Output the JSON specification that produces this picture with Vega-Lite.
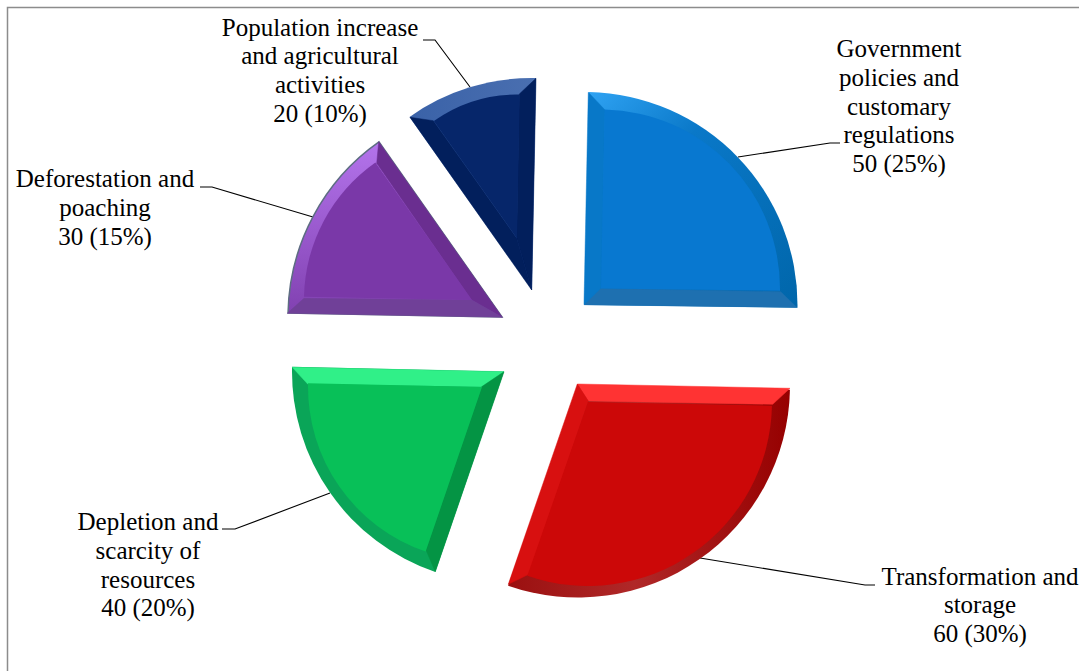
{"$schema":"https://vega.github.io/schema/vega-lite/v6.json","width":1079,"height":671,"padding":0,"autosize":{"type":"fit","contains":"padding"},"background":"white","view":{"stroke":null},
"datasets":{
"slices":[
{"category":"Government policies and customary regulations","value":50,"start":0.65,"end":50.4,"cx":584.5,"cy":305,"ix":601,"iy":288.5,"ir":179},
{"category":"Transformation and storage","value":60,"start":50.65,"end":110.7,"cx":578,"cy":385.5,"ix":588,"iy":402,"ir":184},
{"category":"Depletion and scarcity of resources","value":40,"start":110.5,"end":150.7,"cx":504,"cy":371.5,"ix":482,"iy":387,"ir":174},
{"category":"Deforestation and poaching","value":30,"start":150.6,"end":180.5,"cx":502,"cy":317,"ix":472,"iy":300,"ir":168},
{"category":"Population increase and agricultural activities","value":20,"start":180.4,"end":200.6,"cx":532,"cy":290,"ix":517,"iy":238.5,"ir":144}],
"bands":[
{"piece":"gov_bottom","i":0,"x":584,"y":304.7},{"piece":"gov_bottom","i":1,"x":796.7,"y":307.3},{"piece":"gov_bottom","i":2,"x":780.7,"y":291.7},{"piece":"gov_bottom","i":3,"x":600.7,"y":288.3},
{"piece":"gov_left","i":0,"x":588.3,"y":92.3},{"piece":"gov_left","i":1,"x":605,"y":110},{"piece":"gov_left","i":2,"x":600.7,"y":288.3},{"piece":"gov_left","i":3,"x":584,"y":304.7},
{"piece":"navy_right","i":0,"x":536,"y":78.3},{"piece":"navy_right","i":1,"x":531.7,"y":290},{"piece":"navy_right","i":2,"x":516.7,"y":238.3},{"piece":"navy_right","i":3,"x":519.3,"y":94},
{"piece":"navy_left","i":0,"x":410,"y":117.3},{"piece":"navy_left","i":1,"x":433.3,"y":120.7},{"piece":"navy_left","i":2,"x":516.7,"y":238.3},{"piece":"navy_left","i":3,"x":531.7,"y":290},
{"piece":"purple_right","i":0,"x":378.7,"y":141.7},{"piece":"purple_right","i":1,"x":502.3,"y":317.3},{"piece":"purple_right","i":2,"x":471.7,"y":300},{"piece":"purple_right","i":3,"x":376.7,"y":163.3},
{"piece":"purple_bottom","i":0,"x":287.3,"y":313.3},{"piece":"purple_bottom","i":1,"x":502.3,"y":317.3},{"piece":"purple_bottom","i":2,"x":471.7,"y":300},{"piece":"purple_bottom","i":3,"x":304,"y":298.3},
{"piece":"green_top","i":0,"x":292.3,"y":367.3},{"piece":"green_top","i":1,"x":504,"y":371.7},{"piece":"green_top","i":2,"x":481.7,"y":386.7},{"piece":"green_top","i":3,"x":307.7,"y":384},
{"piece":"green_right","i":0,"x":504,"y":371.7},{"piece":"green_right","i":1,"x":435.3,"y":571.7},{"piece":"green_right","i":2,"x":426,"y":550},{"piece":"green_right","i":3,"x":481.7,"y":386.7},
{"piece":"red_top","i":0,"x":577.3,"y":384},{"piece":"red_top","i":1,"x":790,"y":388.3},{"piece":"red_top","i":2,"x":772.7,"y":404.3},{"piece":"red_top","i":3,"x":588.3,"y":401},
{"piece":"red_left","i":0,"x":577.3,"y":384},{"piece":"red_left","i":1,"x":508.3,"y":584.3},{"piece":"red_left","i":2,"x":529.3,"y":574},{"piece":"red_left","i":3,"x":588.3,"y":401}],
"leaders":[
{"id":"gov","i":0,"x":738,"y":157},{"id":"gov","i":1,"x":830,"y":143},{"id":"gov","i":2,"x":840,"y":143},
{"id":"navy","i":0,"x":470,"y":87},{"id":"navy","i":1,"x":435,"y":40},{"id":"navy","i":2,"x":423,"y":40},
{"id":"purple","i":0,"x":313,"y":217},{"id":"purple","i":1,"x":212,"y":187},{"id":"purple","i":2,"x":200,"y":187},
{"id":"green","i":0,"x":330,"y":493},{"id":"green","i":1,"x":235,"y":529},{"id":"green","i":2,"x":222,"y":529},
{"id":"red","i":0,"x":700,"y":558},{"id":"red","i":1,"x":865,"y":585},{"id":"red","i":2,"x":875,"y":585},
{"id":"frame","i":0,"x":1079,"y":7.5},{"id":"frame","i":1,"x":7.5,"y":7.5},{"id":"frame","i":2,"x":7.5,"y":671}],
"labels":[
{"label":"Population increase\nand agricultural\nactivities\n20 (10%)","x":320,"y":35.5},
{"label":"Government\npolicies and\ncustomary\nregulations\n50 (25%)","x":899,"y":57},
{"label":"Deforestation and\npoaching\n30 (15%)","x":105,"y":187},
{"label":"Depletion and\nscarcity of\nresources\n 40 (20%)","x":148,"y":530},
{"label":"Transformation and\nstorage\n60 (30%)","x":980,"y":584.5}]
},
"encoding":{
"x":{"field":"x","type":"quantitative","axis":null,"scale":{"domain":[0,1079],"range":[0,1079],"nice":false,"zero":false}},
"y":{"field":"y","type":"quantitative","axis":null,"scale":{"domain":[0,671],"range":[0,671],"nice":false,"zero":false}}},
"resolve":{"scale":{"fill":"independent","stroke":"independent"}},
"layer":[
{"data":{"name":"leaders"},"transform":[{"filter":"datum.id==='frame'"}],"mark":{"type":"line","stroke":"#8c8c8c","strokeWidth":1.5},"encoding":{"order":{"field":"i"}}},
{"data":{"name":"leaders"},"transform":[{"filter":"datum.id!=='frame'"}],"mark":{"type":"line","stroke":"#000000","strokeWidth":1.1},"encoding":{"detail":{"field":"id"},"order":{"field":"i"}}},
{"data":{"name":"slices"},"transform":[{"filter":"datum.value===50"}],"mark":{"type":"arc","radius":213,"fill":{"gradient":"linear","x1":0,"y1":0,"x2":1,"y2":1,"stops":[{"offset":0,"color":"#30a4f4"},{"offset":0.35,"color":"#0a78c8"},{"offset":1,"color":"#0066aa"}]}},"encoding":{"x":{"field":"cx"},"y":{"field":"cy"},"theta":{"field":"start","type":"quantitative","scale":{"domain":[0,200],"range":[0,6.283185]}},"theta2":{"field":"end"}}},
{"data":{"name":"slices"},"transform":[{"filter":"datum.value===60"}],"mark":{"type":"arc","radius":212,"fill":{"gradient":"linear","x1":0,"y1":0,"x2":1,"y2":0,"stops":[{"offset":0,"color":"#9a1010"},{"offset":0.45,"color":"#b02828"},{"offset":1,"color":"#960000"}]}},"encoding":{"x":{"field":"cx"},"y":{"field":"cy"},"theta":{"field":"start","type":"quantitative","scale":{"domain":[0,200],"range":[0,6.283185]}},"theta2":{"field":"end"}}},
{"data":{"name":"slices"},"transform":[{"filter":"datum.value===40"}],"mark":{"type":"arc","radius":212,"fill":"#0aa558"},"encoding":{"x":{"field":"cx"},"y":{"field":"cy"},"theta":{"field":"start","type":"quantitative","scale":{"domain":[0,200],"range":[0,6.283185]}},"theta2":{"field":"end"}}},
{"data":{"name":"slices"},"transform":[{"filter":"datum.value===30"}],"mark":{"type":"arc","radius":214,"stroke":"#5d6d82","strokeWidth":1.5,"fill":{"gradient":"linear","x1":0,"y1":0,"x2":0,"y2":1,"stops":[{"offset":0,"color":"#b474ec"},{"offset":1,"color":"#8040b0"}]}},"encoding":{"x":{"field":"cx"},"y":{"field":"cy"},"theta":{"field":"start","type":"quantitative","scale":{"domain":[0,200],"range":[0,6.283185]}},"theta2":{"field":"end"}}},
{"data":{"name":"slices"},"transform":[{"filter":"datum.value===20"}],"mark":{"type":"arc","radius":212,"fill":{"gradient":"linear","x1":0,"y1":0,"x2":1,"y2":0,"stops":[{"offset":0,"color":"#3a62a8"},{"offset":1,"color":"#4a6fb0"}]}},"encoding":{"x":{"field":"cx"},"y":{"field":"cy"},"theta":{"field":"start","type":"quantitative","scale":{"domain":[0,200],"range":[0,6.283185]}},"theta2":{"field":"end"}}},
{"data":{"name":"bands"},"mark":{"type":"line","interpolate":"linear-closed","strokeWidth":0.5},"encoding":{"detail":{"field":"piece"},"order":{"field":"i"},
"fill":{"field":"piece","type":"nominal","legend":null,"scale":{"domain":["gov_bottom","gov_left","navy_right","navy_left","purple_right","purple_bottom","green_top","green_right","red_top","red_left"],"range":["#1e70b0","#0878c8","#021f5c","#021f5c","#6a2e90","#704098","#30f088","#049444","#ff3333","#d81010"]}},
"stroke":{"field":"piece","type":"nominal","legend":null,"scale":{"domain":["gov_bottom","gov_left","navy_right","navy_left","purple_right","purple_bottom","green_top","green_right","red_top","red_left"],"range":["#1e70b0","#0878c8","#021f5c","#021f5c","#6a2e90","#704098","#30f088","#049444","#ff3333","#d81010"]}}}},
{"data":{"name":"slices"},"mark":{"type":"arc"},"encoding":{"x":{"field":"ix"},"y":{"field":"iy"},"theta":{"field":"start","type":"quantitative","scale":{"domain":[0,200],"range":[0,6.283185]}},"theta2":{"field":"end"},"radius":{"field":"ir","type":"quantitative","scale":{"type":"linear","domain":[0,213],"range":[0,213],"zero":true}},
"fill":{"field":"category","type":"nominal","legend":null,"scale":{"domain":["Government policies and customary regulations","Transformation and storage","Depletion and scarcity of resources","Deforestation and poaching","Population increase and agricultural activities"],"range":["#0878d0","#cc0808","#08c058","#7a38a8","#06266a"]}}}},
{"data":{"name":"labels"},"mark":{"type":"text","font":"Liberation Serif","fontSize":25,"lineHeight":28.8,"align":"center","baseline":"alphabetic","color":"#000000"},"encoding":{"text":{"field":"label"}}}
],
"config":{"text":{"lineBreak":"\n"}}}
